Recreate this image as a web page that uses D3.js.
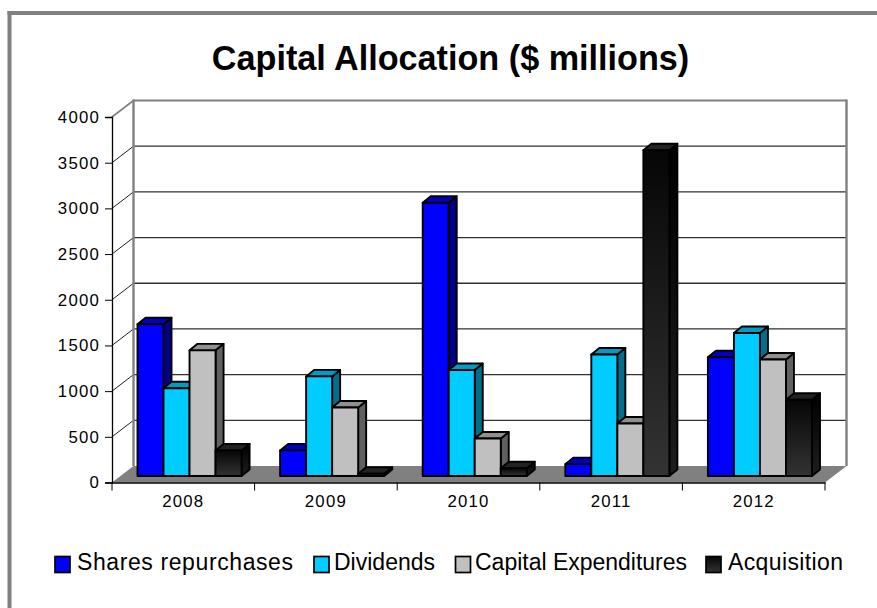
<!DOCTYPE html>
<html>
<head>
<meta charset="utf-8">
<script src="https://cdn.jsdelivr.net/npm/d3@7/dist/d3.min.js"></script>
<style>
html,body{margin:0;padding:0;background:#fff;overflow:hidden}
text{font-family:"Liberation Sans",Arial,sans-serif;fill:#000}
</style>
</head>
<body>
<svg id="chart" width="877" height="608"></svg>
<script>
// Yearly figures, $ millions
const years = ["2008","2009","2010","2011","2012"];
const seriesNames = ["Shares repurchases","Dividends","Capital Expenditures","Acquisition"];
const sharesRepurchases = [1660,280,2990,130,1300];
const dividends = [960,1090,1160,1330,1565];
const capitalExpenditures = [1375,750,410,575,1275];
const acquisition = [280,25,85,3565,835];
const yTicks = [0,500,1000,1500,2000,2500,3000,3500,4000];

const faceColors = ["#0000ff","#00ccff","#c0c0c0","url(#darkFace)"];
const topColors = ["#0000c0","#009cc4","#909090","#222222"];
const sideColors = ["#000088","#006f8c","#606060","url(#darkSide)"];
const seriesValues = [sharesRepurchases,dividends,capitalExpenditures,acquisition];

const svg = d3.select("#chart");

// Dark series fades from black to charcoal down each bar
const defs = svg.append("defs");
const addFade = (id,from,to)=>{
  const g = defs.append("linearGradient").attr("id",id)
    .attr("x1",0).attr("y1",0).attr("x2",0).attr("y2",1);
  g.append("stop").attr("offset",0).attr("stop-color",from);
  g.append("stop").attr("offset",1).attr("stop-color",to);
};
addFade("darkFace","#060606","#333333");
addFade("darkSide","#000000","#1e1e1e");

// Plot box: front plane plus the oblique offset of the back wall
const front = {left:112,right:825,bottom:482.5,top:117};
const depth = {dx:21.5,dy:-16.5};
const barDepth = {dx:8,dy:-6.5};

const x = d3.scaleBand().domain(years).range([front.left,front.right]).padding(0);
const y = d3.scaleLinear().domain([0,4000]).range([front.bottom,front.top]);
const inner = d3.scaleBand().domain(d3.range(seriesNames.length))
  .range([0,x.bandwidth()]).paddingOuter(0.74).paddingInner(0);

// Outer frame: only the top and left edges show
svg.append("rect").attr("x",7.5).attr("y",11).attr("width",869.5).attr("height",4).attr("fill","#808080");
svg.append("rect").attr("x",7.5).attr("y",11).attr("width",4).attr("height",597).attr("fill","#808080");

// Title
svg.append("text").attr("x",450.5).attr("y",70).attr("text-anchor","middle")
  .attr("font-size",34.2).attr("font-weight","bold").text("Capital Allocation ($ millions)");

// Floor
svg.append("polygon").attr("fill","#808080").attr("points",[
  [front.left,front.bottom],[front.right,front.bottom],
  [front.right+depth.dx,front.bottom+depth.dy],[front.left+depth.dx,front.bottom+depth.dy]
].join(" "));

// Gridlines across the back wall and down the side wall
const grid = svg.append("g").attr("fill","none");
yTicks.filter(t=>t>0).forEach(t=>{
  const top = t===4000;
  grid.append("line").attr("x1",front.left+depth.dx).attr("x2",front.right+depth.dx)
    .attr("y1",y(t)+depth.dy).attr("y2",y(t)+depth.dy)
    .attr("stroke",top?"#808080":"#303030").attr("stroke-width",top?2:1.3);
  grid.append("line").attr("x1",front.left).attr("x2",front.left+depth.dx)
    .attr("y1",y(t)).attr("y2",y(t)+depth.dy)
    .attr("stroke",top?"#808080":"#202020").attr("stroke-width",top?1.6:1);
});
// Wall edges
[front.left+depth.dx,front.right+depth.dx].forEach(px=>{
  grid.append("line").attr("x1",px).attr("x2",px)
    .attr("y1",y(4000)+depth.dy-1).attr("y2",y(0)+depth.dy)
    .attr("stroke","#808080").attr("stroke-width",2.4);
});

// Bars, each with a front, top and right face
const barG = svg.append("g").attr("stroke","#000").attr("stroke-width",1.9).attr("stroke-linejoin","round");
years.forEach((yr,i)=>{
  seriesNames.forEach((name,s)=>{
    const v = seriesValues[s][i];
    const w = inner.bandwidth();
    const dx = barDepth.dx, dy = barDepth.dy;
    const bx = x(yr)+inner(s)+dx*0.78;
    const base = y(0)+dy, ty = y(v)+dy;
    barG.append("polygon").attr("fill",sideColors[s]).attr("points",[
      [bx+w,ty],[bx+w+dx,ty+dy],[bx+w+dx,base+dy],[bx+w,base]].join(" "));
    barG.append("polygon").attr("fill",topColors[s]).attr("points",[
      [bx,ty],[bx+dx,ty+dy],[bx+w+dx,ty+dy],[bx+w,ty]].join(" "));
    barG.append("rect").attr("x",bx).attr("y",ty).attr("width",w).attr("height",base-ty)
      .attr("fill",faceColors[s]);
  });
});

// Axes
const yAxis = svg.append("g").attr("transform",`translate(${front.left},0)`)
  .call(d3.axisLeft(y).tickValues(yTicks).tickFormat(d3.format("d")).tickSize(7).tickPadding(5));
const boundaries = years.map(d=>x(d)).concat([front.right]);
const xAxis = svg.append("g").attr("transform",`translate(0,${front.bottom})`)
  .call(d3.axisBottom(x).tickSize(0).tickPadding(13));
xAxis.selectAll(".tick").attr("transform",d=>`translate(${x(d)+x.bandwidth()/2},0)`);
xAxis.selectAll(".bnd").data(boundaries).enter().append("line").attr("class","bnd")
  .attr("x1",d=>d).attr("x2",d=>d).attr("y1",0).attr("y2",8).attr("stroke","#000");
[yAxis,xAxis].forEach(a=>{
  a.selectAll("path.domain").attr("stroke","#000").attr("stroke-width",1.3);
  a.selectAll("text").attr("font-size",16.8).attr("font-family",'"Liberation Sans",Arial,sans-serif')
    .attr("letter-spacing",1.2).attr("fill","#111");
  a.selectAll(".tick line").attr("stroke","#000");
});

// Legend
const legendX = [54,313,454.5,705];
const legendLabelX = [77,334,475,728];
const legendLabelW = [216,101,212,115];
const legend = svg.append("g");
seriesNames.forEach((name,s)=>{
  legend.append("rect").attr("x",legendX[s]+1).attr("y",556.5).attr("width",15).attr("height",16)
    .attr("fill",faceColors[s]).attr("stroke","#000").attr("stroke-width",1.7);
  legend.append("text").attr("x",legendLabelX[s]).attr("y",570).attr("font-size",23)
    .attr("textLength",legendLabelW[s]).text(name);
});
</script>
</body>
</html>
